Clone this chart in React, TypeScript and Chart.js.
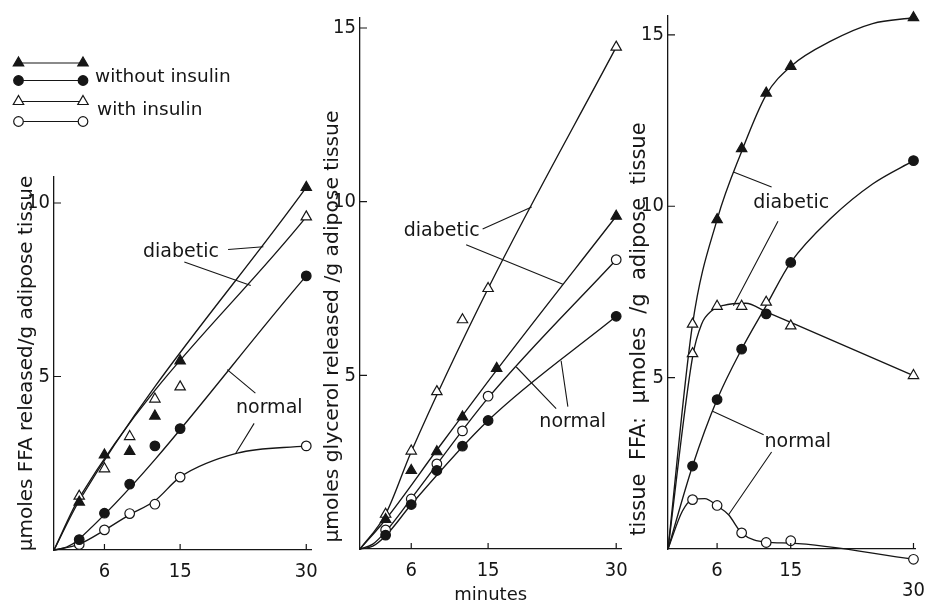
import React, { useEffect, useRef } from 'react';
import { Chart, registerables } from 'chart.js';
import { drawPoint } from 'chart.js/helpers';

Chart.register(...registerables);

const FONT = "'DejaVu Sans', 'Liberation Sans', sans-serif";
const TICK_FONT = "'Liberation Sans Narrow', 'DejaVu Sans Condensed', 'DejaVu Sans', sans-serif";
const INK = '#161616';

// ---------- sampling times (minutes) and axis ticks ----------
const times = [3, 6, 9, 12, 15, 30];
const timesGlyDiabNoIns = [3, 6, 9, 12, 16, 30];
const xTickValues = [6, 15, 30];
const yTicksA = [5, 10];
const yTicksBC = [5, 10, 15];

// ---------- Panel A: FFA released (µmoles / g adipose tissue) ----------
const ffaDiabNoIns = [1.38, 2.74, 2.84, 3.86, 5.45, 10.45];
const ffaDiabIns = [1.55, 2.34, 3.27, 4.35, 4.7, 9.6];
const ffaNormNoIns = [0.3, 1.06, 1.9, 3.0, 3.5, 7.9];
const ffaNormIns = [0.16, 0.58, 1.05, 1.32, 2.1, 3.0];
// drawn (fitted) lines
const ffaDiabNoInsLineX = [0, 3, 30];
const ffaDiabNoInsLineY = [0, 1.42, 10.45];
const ffaDiabInsLineX = [0, 3, 30];
const ffaDiabInsLineY = [0, 1.5, 9.6];
const ffaNormNoInsLineX = [0, 1.5, 3, 30];
const ffaNormNoInsLineY = [0, 0.08, 0.32, 7.9];
const ffaNormInsLineX = [0, 3, 6, 9, 12, 15, 21.8, 30];
const ffaNormInsLineY = [0, 0.17, 0.57, 1.02, 1.42, 2.1, 2.79, 3.0];

// ---------- Panel B: glycerol released ----------
const glyDiabNoIns = [0.85, 2.26, 2.8, 3.8, 5.2, 9.58];
const glyDiabIns = [1.0, 2.82, 4.53, 6.6, 7.5, 14.45];
const glyNormNoIns = [0.4, 1.28, 2.26, 2.96, 3.7, 6.7];
const glyNormIns = [0.55, 1.44, 2.45, 3.4, 4.4, 8.33];
const glyDiabInsLineX = [0, 3, 6, 15, 30];
const glyDiabInsLineY = [0, 1.0, 2.8, 7.5, 14.45];
const glyDiabNoInsLineX = [0, 3, 9, 16, 30];
const glyDiabNoInsLineY = [0, 0.85, 2.85, 5.15, 9.58];
const glyNormInsLineX = [0, 1.5, 3, 6, 15, 30];
const glyNormInsLineY = [0, 0.14, 0.5, 1.45, 4.35, 8.33];
const glyNormNoInsLineX = [0, 1.5, 3, 6, 15, 30];
const glyNormNoInsLineY = [0, 0.08, 0.38, 1.28, 3.7, 6.7];

// ---------- Panel C: tissue FFA ----------
const tisDiabNoIns = [6.56, 9.61, 11.68, 13.3, 14.08, 15.5];
const tisDiabIns = [5.7, 7.08, 7.08, 7.2, 6.51, 5.06];
const tisNormNoIns = [2.42, 4.36, 5.83, 6.86, 8.36, 11.33];
const tisNormIns = [1.44, 1.27, 0.47, 0.19, 0.24, -0.3];
const tisDiabNoInsLineX = [0, 3, 6, 9, 12, 15, 20, 25, 30];
const tisDiabNoInsLineY = [0, 6.56, 9.61, 11.6, 13.25, 14.08, 14.83, 15.33, 15.5];
const tisDiabInsLineX = [0, 3, 4.1, 5.3, 6.8, 9.5, 12, 15, 30];
const tisDiabInsLineY = [0, 5.6, 6.56, 6.94, 7.11, 7.17, 6.92, 6.61, 5.06];
const tisNormNoInsLineX = [0, 3, 6, 9, 12, 15, 20, 25, 30];
const tisNormNoInsLineY = [0, 2.42, 4.36, 5.83, 7.1, 8.36, 9.67, 10.65, 11.33];
const tisNormInsLineX = [0, 1.75, 3, 4.5, 6, 7.4, 9, 12, 15, 30];
const tisNormInsLineY = [0, 1.1, 1.44, 1.47, 1.26, 1.0, 0.47, 0.2, 0.17, -0.3];

// ---------- legend ----------
const legendTexts = ['without insulin', 'with insulin'];

type Pt = { x: number; y: number };
const pts = (xs: number[], ys: number[]): Pt[] => xs.map((x, i) => ({ x, y: ys[i] }));

const MARK: Record<string, any> = {
  filledTri: { pointStyle: 'triangle', radius: 6, bg: INK },
  openTri: { pointStyle: 'triangle', radius: 6, bg: '#ffffff' },
  filledCirc: { pointStyle: 'circle', radius: 4.8, bg: INK },
  openCirc: { pointStyle: 'circle', radius: 4.8, bg: '#ffffff' },
};

const markerSet = (xs: number[], ys: number[], kind: string, bgOverride?: string[]) => ({
  data: pts(xs, ys),
  showLine: false,
  pointStyle: MARK[kind].pointStyle,
  pointRadius: MARK[kind].radius,
  // larger (never shown) hover radius widens the in-area margin so marks just outside the axes still draw
  pointHoverRadius: 14,
  pointBackgroundColor: bgOverride || MARK[kind].bg,
  pointBorderColor: INK,
  pointBorderWidth: 1.2,
  order: 0,
  clip: false,
});

const lineSet = (xs: number[], ys: number[]) => ({
  data: pts(xs, ys),
  borderColor: INK,
  borderWidth: 1.35,
  pointRadius: 0,
  pointHoverRadius: 0,
  cubicInterpolationMode: 'monotone',
  fill: false,
  order: 1,
  clip: false,
});

const panels = [
  {
    left: 0, width: 330, yAxisW: 54, padTop: 177, padRight: 15, xAxisH: 56,
    xMax: 30.6, yMin: 0, yMax: 10.75, yTicks: yTicksA,
    title: 'µmoles FFA released/g adipose tissue', titlePad: 17, titleSize: 20, titleAlign: 'center',
    xTitle: null as string | null, lowLast: false, legend: true,
    datasets: [
      markerSet(times, ffaDiabNoIns, 'filledTri'),
      markerSet(times, ffaDiabIns, 'openTri'),
      markerSet(times, ffaNormNoIns, 'filledCirc'),
      markerSet(times, ffaNormIns, 'openCirc'),
      lineSet(ffaDiabNoInsLineX, ffaDiabNoInsLineY),
      lineSet(ffaDiabInsLineX, ffaDiabInsLineY),
      lineSet(ffaNormNoInsLineX, ffaNormNoInsLineY),
      lineSet(ffaNormInsLineX, ffaNormInsLineY),
    ],
    labels: [
      { text: 'diabetic', x: 15.1, y: 8.6 },
      { text: 'normal', x: 25.6, y: 4.1 },
    ],
    leaders: [
      [20.7, 8.66, 24.9, 8.74],
      [15.5, 8.3, 23.4, 7.62],
      [23.95, 4.52, 20.6, 5.2],
      [23.8, 3.65, 21.6, 2.78],
    ],
  },
  {
    left: 318, width: 322, yAxisW: 42, padTop: 17.6, padRight: 17.8, xAxisH: 57,
    xMax: 30.6, yMin: 0, yMax: 15.3, yTicks: yTicksBC,
    title: ' µmoles glycerol released /g adipose tissue', titlePad: 5, titleSize: 20.3, titleAlign: 'start',
    xTitle: 'minutes', lowLast: false, legend: false,
    datasets: [
      markerSet(timesGlyDiabNoIns, glyDiabNoIns, 'filledTri'),
      markerSet(times, glyDiabIns, 'openTri'),
      markerSet(times, glyNormNoIns, 'filledCirc'),
      markerSet(times, glyNormIns, 'openCirc'),
      lineSet(glyDiabInsLineX, glyDiabInsLineY),
      lineSet(glyDiabNoInsLineX, glyDiabNoInsLineY),
      lineSet(glyNormInsLineX, glyNormInsLineY),
      lineSet(glyNormNoInsLineX, glyNormNoInsLineY),
    ],
    labels: [
      { text: 'diabetic', x: 9.57, y: 9.16 },
      { text: 'normal', x: 24.9, y: 3.66 },
    ],
    leaders: [
      [14.36, 9.21, 20.1, 9.85],
      [12.43, 8.76, 23.75, 7.62],
      [22.97, 4.04, 18.3, 5.24],
      [24.34, 4.1, 23.55, 5.42],
    ],
  },
  {
    left: 626, width: 311, yAxisW: 42, padTop: 9, padRight: 10.3, xAxisH: 57,
    xMax: 30.2, yMin: 0, yMax: 15.55, yTicks: yTicksBC,
    title: '  tissue  FFA:  µmoles  /g  adipose  tissue', titlePad: 3, titleSize: 21, titleAlign: 'start',
    xTitle: null as string | null, lowLast: true, legend: false,
    datasets: [
      markerSet(times, tisDiabNoIns, 'filledTri', times.map((_, i) => (i === 0 ? '#ffffff' : INK))),
      markerSet(times, tisDiabIns, 'openTri'),
      markerSet(times, tisNormNoIns, 'filledCirc'),
      markerSet(times, tisNormIns, 'openCirc'),
      lineSet(tisDiabNoInsLineX, tisDiabNoInsLineY),
      lineSet(tisDiabInsLineX, tisDiabInsLineY),
      lineSet(tisNormNoInsLineX, tisNormNoInsLineY),
      lineSet(tisNormInsLineX, tisNormInsLineY),
    ],
    labels: [
      { text: 'diabetic', x: 15.06, y: 10.1 },
      { text: 'normal', x: 15.86, y: 3.11 },
    ],
    leaders: [
      [12.66, 10.56, 7.99, 11.0],
      [13.44, 9.56, 7.99, 7.1],
      [11.69, 3.33, 5.45, 4.02],
      [12.66, 2.83, 7.4, 1.0],
    ],
  },
];

const overlay = (p: any) => ({
  id: 'overlay' + p.left,
  afterDraw(chart: any) {
    const { ctx, chartArea } = chart;
    const x = chart.scales.x;
    const y = chart.scales.y;
    ctx.save();
    ctx.strokeStyle = INK;
    ctx.lineWidth = 1.2;
    ctx.beginPath();
    xTickValues.forEach((v) => {
      const px = x.getPixelForValue(v);
      ctx.moveTo(px, chartArea.bottom);
      ctx.lineTo(px, chartArea.bottom - 6);
    });
    p.yTicks.forEach((v: number) => {
      const py = y.getPixelForValue(v);
      ctx.moveTo(chartArea.left, py);
      ctx.lineTo(chartArea.left + 7, py);
    });
    ctx.stroke();

    ctx.lineWidth = 1.1;
    ctx.beginPath();
    p.leaders.forEach((l: number[]) => {
      ctx.moveTo(x.getPixelForValue(l[0]), y.getPixelForValue(l[1]));
      ctx.lineTo(x.getPixelForValue(l[2]), y.getPixelForValue(l[3]));
    });
    ctx.stroke();

    ctx.fillStyle = INK;
    ctx.font = `19px ${FONT}`;
    ctx.textAlign = 'center';
    ctx.textBaseline = 'middle';
    p.labels.forEach((lb: any) => {
      ctx.fillText(lb.text, x.getPixelForValue(lb.x), y.getPixelForValue(lb.y));
    });

    if (p.legend) {
      const rows = [
        { y: 63, kind: 'filledTri' },
        { y: 80.5, kind: 'filledCirc' },
        { y: 101.5, kind: 'openTri' },
        { y: 121.5, kind: 'openCirc' },
      ];
      const x1 = 18.5;
      const x2 = 83;
      rows.forEach((r) => {
        ctx.lineWidth = 1.1;
        ctx.strokeStyle = INK;
        ctx.beginPath();
        ctx.moveTo(x1, r.y);
        ctx.lineTo(x2, r.y);
        ctx.stroke();
        const m = MARK[r.kind];
        [x1, x2].forEach((px) => {
          ctx.fillStyle = m.bg;
          ctx.strokeStyle = INK;
          ctx.lineWidth = 1.2;
          drawPoint(ctx, { pointStyle: m.pointStyle, radius: m.radius, borderWidth: 1.2, rotation: 0 } as any, px, r.y);
        });
      });
      ctx.fillStyle = INK;
      ctx.font = `18.5px ${FONT}`;
      ctx.textAlign = 'left';
      ctx.textBaseline = 'middle';
      ctx.fillText(legendTexts[0], 95, 77);
      ctx.fillText(legendTexts[1], 97, 110);
    }
    ctx.restore();
  },
});

const buildConfig = (p: any): any => ({
  type: 'line',
  data: { datasets: p.datasets },
  options: {
    responsive: false,
    animation: false,
    events: [],
    layout: { padding: { top: p.padTop, right: p.padRight, left: 0, bottom: 0 }, autoPadding: false },
    plugins: { legend: { display: false }, tooltip: { enabled: false } },
    scales: {
      x: {
        type: 'linear',
        min: 0,
        max: p.xMax,
        afterBuildTicks: (s: any) => {
          s.ticks = xTickValues.map((v) => ({ value: v }));
        },
        afterFit: (s: any) => {
          s.height = p.xAxisH;
        },
        ticks: {
          autoSkip: false,
          maxRotation: 0,
          minRotation: 0,
          padding: 12,
          color: INK,
          font: { family: TICK_FONT, size: 20, lineHeight: 1 },
          callback: (v: number) => (p.lowLast && v === 30 ? ['', '30'] : String(v)),
        },
        grid: { display: false, drawTicks: false },
        border: { display: true, color: INK, width: 1.3 },
        title: p.xTitle
          ? {
              display: true,
              text: p.xTitle,
              color: INK,
              font: { family: FONT, size: 18, lineHeight: 1 },
              padding: { top: 0, bottom: 2 },
            }
          : { display: false },
      },
      y: {
        type: 'linear',
        min: p.yMin,
        max: p.yMax,
        afterBuildTicks: (s: any) => {
          s.ticks = p.yTicks.map((v: number) => ({ value: v }));
        },
        afterFit: (s: any) => {
          s.width = p.yAxisW;
        },
        ticks: {
          padding: 4,
          color: INK,
          font: { family: TICK_FONT, size: 20 },
          callback: (v: number) => String(v),
        },
        grid: { display: false, drawTicks: false },
        border: { display: true, color: INK, width: 1.3 },
        title: {
          display: true,
          text: p.title,
          align: p.titleAlign,
          color: INK,
          font: { family: FONT, size: p.titleSize, lineHeight: 1 },
          padding: { top: p.titlePad, bottom: 0 },
        },
      },
    },
  },
  plugins: [overlay(p)],
});

export default function App() {
  const r0 = useRef<HTMLCanvasElement>(null);
  const r1 = useRef<HTMLCanvasElement>(null);
  const r2 = useRef<HTMLCanvasElement>(null);
  const refs = [r0, r1, r2];

  useEffect(() => {
    const charts = panels.map((p, i) => new Chart(refs[i].current as HTMLCanvasElement, buildConfig(p)));
    return () => charts.forEach((c) => c.destroy());
  }, []);

  return (
    <div style={{ position: 'absolute', left: 0, top: 0, width: 937, height: 606, background: '#ffffff', overflow: 'hidden' }}>
      {panels.map((p, i) => (
        <canvas
          key={i}
          ref={refs[i]}
          width={p.width}
          height={606}
          style={{ position: 'absolute', left: p.left, top: 0, width: p.width, height: 606 }}
        />
      ))}
    </div>
  );
}
